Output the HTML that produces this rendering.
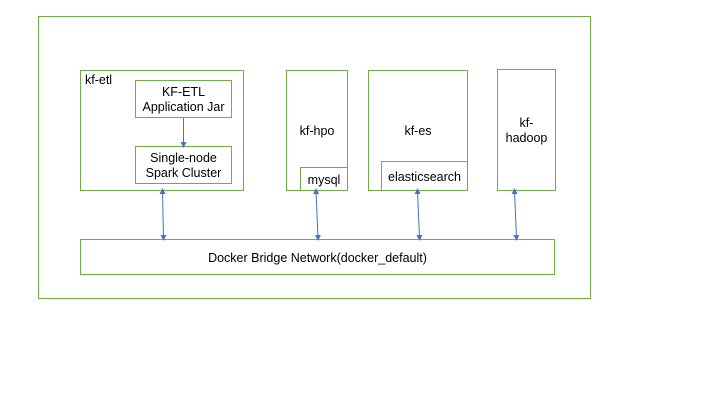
<!DOCTYPE html>
<html><head><meta charset="utf-8"><style>
html,body{margin:0;padding:0;background:#fff;}
svg text{font-family:"Liberation Sans",sans-serif;font-size:12.5px;fill:#000;}
</style></head><body>
<svg width="720" height="405" xmlns="http://www.w3.org/2000/svg">
<defs>
<marker id="a" markerWidth="6" markerHeight="6" refX="3" refY="3" orient="auto-start-reverse" markerUnits="userSpaceOnUse">
<path d="M0,0 L6,3 L0,6 z" fill="#4472c4"/></marker>
</defs>
<g fill="none" stroke="#70ad47" stroke-width="1">
<rect x="38.5" y="16.5" width="552" height="282"/>
<rect x="80.5" y="70.5" width="163" height="120"/>
<rect x="135.5" y="80.5" width="96" height="37"/>
<rect x="135.5" y="146.5" width="96" height="37"/>
<rect x="286.5" y="70.5" width="61" height="120"/>
<rect x="300.5" y="167.5" width="47" height="23"/>
<rect x="368.5" y="70.5" width="99" height="120"/>
<rect x="381.5" y="161.5" width="86" height="29"/>
<rect x="497.5" y="69.5" width="58" height="121"/>
<rect x="80.5" y="239.5" width="474" height="35"/>
</g>
<g stroke="#4472c4" stroke-width="1">
<line x1="183.5" y1="118" x2="183.5" y2="145" marker-end="url(#a)"/>
<line x1="162.5" y1="191" x2="163.5" y2="238" marker-start="url(#a)" marker-end="url(#a)"/>
<line x1="316" y1="191" x2="318" y2="238" marker-start="url(#a)" marker-end="url(#a)"/>
<line x1="417.5" y1="191" x2="419.5" y2="238" marker-start="url(#a)" marker-end="url(#a)"/>
<line x1="514.5" y1="191" x2="516.5" y2="238" marker-start="url(#a)" marker-end="url(#a)"/>
</g>
<text x="85" y="84">kf-etl</text>
<text x="183.5" y="96" text-anchor="middle">KF-ETL</text>
<text x="183.5" y="111" text-anchor="middle">Application Jar</text>
<text x="183.5" y="162" text-anchor="middle">Single-node</text>
<text x="183.5" y="177" text-anchor="middle">Spark Cluster</text>
<text x="317" y="135" text-anchor="middle">kf-hpo</text>
<text x="324" y="184" text-anchor="middle">mysql</text>
<text x="418" y="135" text-anchor="middle">kf-es</text>
<text x="424.5" y="181" text-anchor="middle">elasticsearch</text>
<text x="526.5" y="127" text-anchor="middle">kf-</text>
<text x="526.5" y="142" text-anchor="middle">hadoop</text>
<text x="317.5" y="262" text-anchor="middle">Docker Bridge Network(docker_default)</text>
</svg>
</body></html>
